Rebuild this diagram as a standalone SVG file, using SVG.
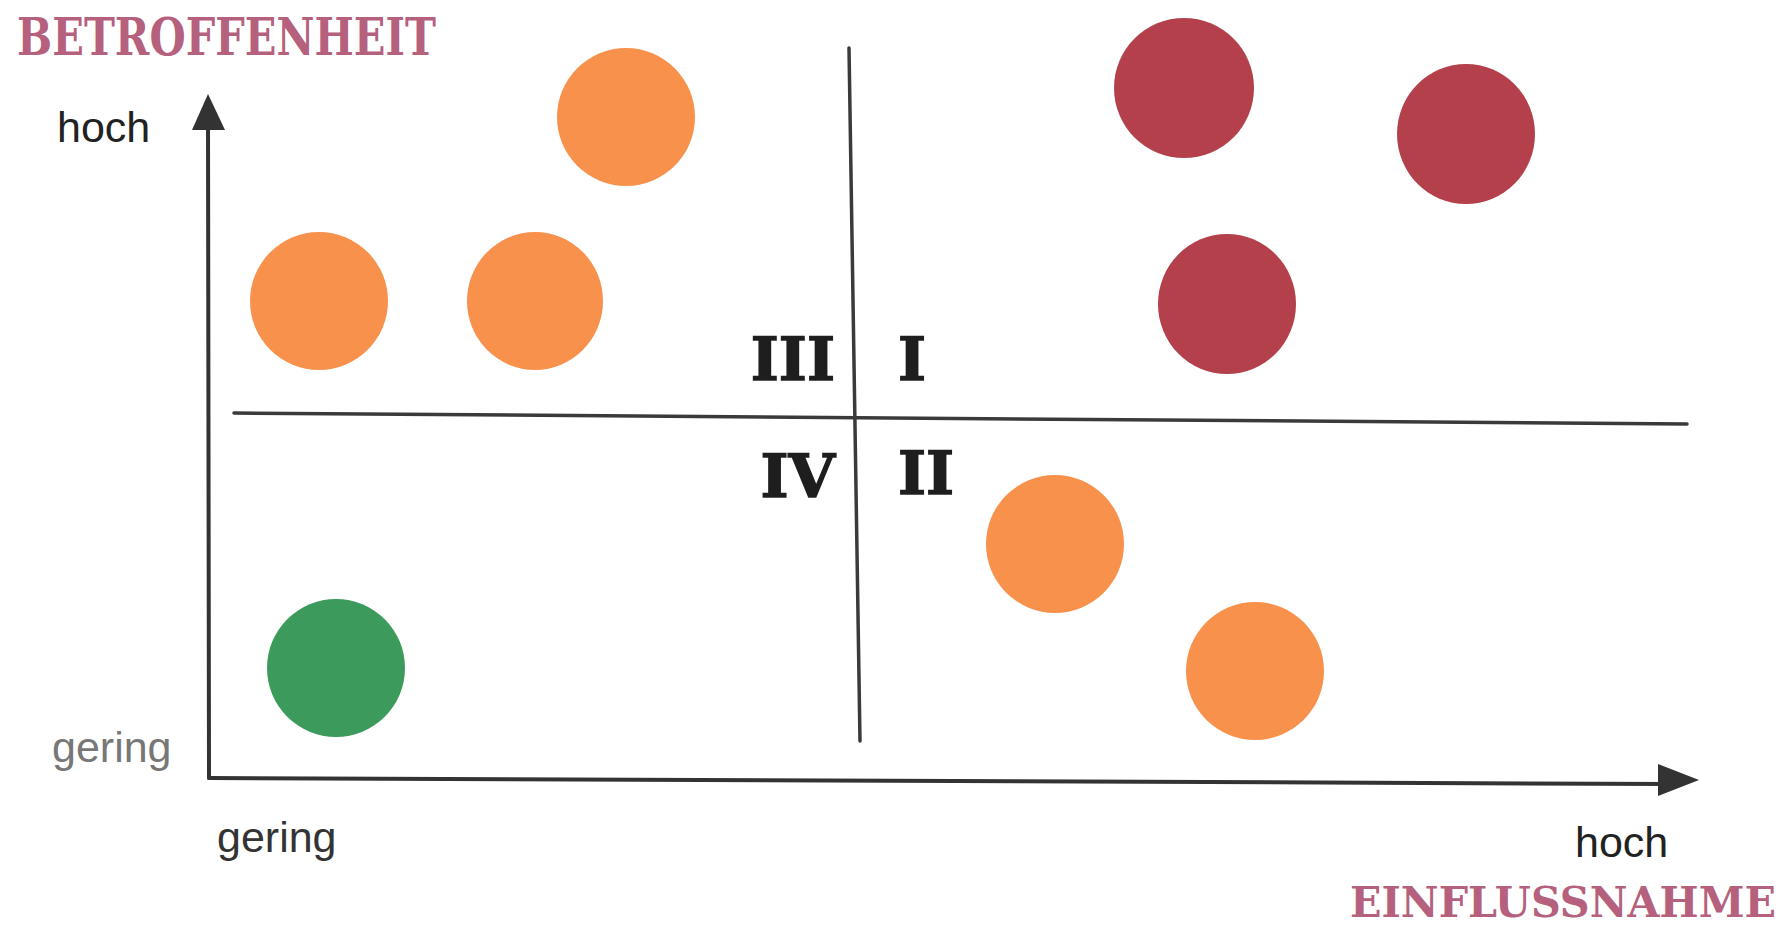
<svg xmlns="http://www.w3.org/2000/svg" width="1787" height="930" viewBox="0 0 1787 930">
<style>
.title{font-family:"DejaVu Serif","Liberation Serif",serif;font-weight:bold;fill:#b5607c}
.roman{font-family:"DejaVu Serif","Liberation Serif",serif;font-weight:bold;fill:#1e1e1e;stroke:#1e1e1e;stroke-width:1.5;font-size:60px}
.lbl{font-family:"Liberation Sans","Open Sans",sans-serif;font-size:43px}
.axis{stroke:#333;stroke-width:4;fill:none;stroke-linecap:round}
.div{stroke:#3a3a3a;stroke-width:3.5;fill:none;stroke-linecap:round}
.orange{fill:#f8914c}
.red{fill:#b3404b}
.green{fill:#3c9a5c}
</style>
<rect width="1787" height="930" fill="#ffffff"/>
<g id="connectors">
<line class="axis" x1="209" y1="778" x2="208" y2="120"/>
<polygon points="208,94 192,130 225,130" fill="#333"/>
<line class="axis" x1="209" y1="778" x2="1670" y2="784"/>
<polygon points="1699,780 1658,764 1658,796" fill="#333"/>
<line class="div" x1="234" y1="413" x2="1687" y2="424"/>
<line class="div" x1="849" y1="48" x2="860" y2="741"/>
</g>
<g id="title-y"><text class="title" x="17" y="55" font-size="52" textLength="419" lengthAdjust="spacingAndGlyphs">BETROFFENHEIT</text></g>
<g id="title-x"><text class="title" x="1350" y="917" font-size="42" textLength="426" lengthAdjust="spacingAndGlyphs">EINFLUSSNAHME</text></g>
<g id="label-y-hoch"><text class="lbl" x="57" y="142" fill="#222">hoch</text></g>
<g id="label-y-gering"><text class="lbl" x="52" y="762" fill="#777">gering</text></g>
<g id="label-x-gering"><text class="lbl" x="217" y="852" fill="#333">gering</text></g>
<g id="label-x-hoch"><text class="lbl" x="1575" y="857" fill="#222">hoch</text></g>
<g id="q3"><text class="roman" x="835" y="380" text-anchor="end">III</text></g>
<g id="q1"><text class="roman" x="898" y="380">I</text></g>
<g id="q4"><text class="roman" x="835" y="497" text-anchor="end">IV</text></g>
<g id="q2"><text class="roman" x="898" y="494">II</text></g>
<g id="c1"><ellipse class="orange" cx="626" cy="117" rx="69" ry="69"/></g>
<g id="c2"><ellipse class="orange" cx="319" cy="301" rx="69" ry="69"/></g>
<g id="c3"><ellipse class="orange" cx="535" cy="301" rx="68" ry="69"/></g>
<g id="c4"><ellipse class="red" cx="1184" cy="88" rx="70" ry="70"/></g>
<g id="c5"><ellipse class="red" cx="1466" cy="134" rx="69" ry="70"/></g>
<g id="c6"><ellipse class="red" cx="1227" cy="304" rx="69" ry="70"/></g>
<g id="c7"><ellipse class="orange" cx="1055" cy="544" rx="69" ry="69"/></g>
<g id="c8"><ellipse class="orange" cx="1255" cy="671" rx="69" ry="69"/></g>
<g id="c9"><ellipse class="green" cx="336" cy="668" rx="69" ry="69"/></g>
</svg>
